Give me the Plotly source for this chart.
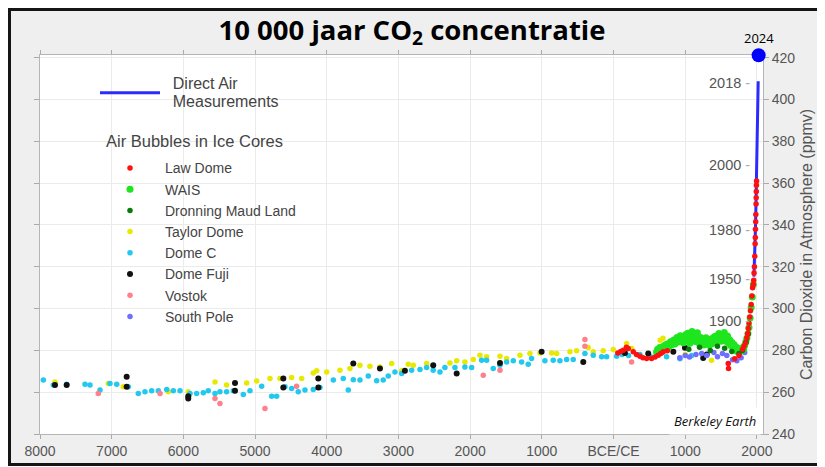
import plotly.graph_objects as go

# ---------------- data (year: negative = BCE, ppm) ----------------
direct_years = [1958, 1960, 1965, 1970, 1975, 1980, 1985, 1990, 1995, 2000, 2005, 2010, 2015, 2018]
direct_ppm = [315.3, 316.9, 320.0, 325.7, 331.1, 338.7, 346.1, 354.4, 360.8, 369.7, 379.8, 389.9, 401.0, 408.7]

latest_year = [2024]
latest_ppm = [421.2]

lawdome_years = [60, 100, 136, 180, 205, 275, 320, 368, 410, 462,
                 531, 580, 624, 660, 693, 750, 1600, 1604, 1690, 1750,
                 1800, 1820, 1840, 1860, 1870, 1880, 1890, 1900, 1910, 1920,
                 1930, 1940, 1950, 1955, 1960, 1965, 1970, 1975, 1978, 1980,
                 1983, 1985, 1988, 1990, 1992, 1993, 1995]
lawdome_ppm = [278.8, 279.5, 280.1, 281.5, 280.9, 279.3, 278.0, 277.2, 276.5, 276.1,
               276.1, 276.8, 277.7, 278.5, 279.3, 279.8, 273.7, 271.3, 276.0, 277.5,
               280.5, 282.0, 283.5, 286.0, 288.0, 290.5, 293.0, 296.0, 299.0, 302.0,
               306.0, 310.0, 311.5, 313.5, 317.0, 320.0, 325.0, 331.0, 334.0, 338.0,
               341.5, 345.0, 350.0, 353.0, 356.0, 359.0, 361.0]

wais_years = [600, 615, 630, 645, 660, 675, 690, 705, 720, 735,
              750, 765, 780, 795, 810, 825, 840, 855, 870, 885,
              900, 915, 930, 945, 960, 975, 990, 1005, 1020, 1035,
              1050, 1065, 1080, 1095, 1110, 1125, 1140, 1155, 1170, 1185,
              1200, 1215, 1230, 1245, 1260, 1275, 1290, 1305, 1320, 1335,
              1350, 1365, 1380, 1395, 1410, 1425, 1440, 1455, 1470, 1485,
              1500, 1515, 1530, 1545, 1560, 1575, 1590, 1605, 1620, 1635,
              1650, 1665, 1680, 1695, 1710, 1725, 1740, 1755, 1770, 1785,
              1800, 1815, 1830, 1845, 1860, 1875, 1890, 1905, 1920, 1935, 1950]
wais_ppm = [279.2, 280.6, 279.0, 281.4, 280.0, 279.4, 281.9, 280.8, 282.6, 281.2,
            283.0, 281.6, 282.2, 284.1, 282.7, 283.8, 285.0, 283.1, 284.6, 286.2,
            284.0, 285.6, 287.0, 284.8, 286.4, 283.6, 285.9, 287.5, 284.9, 288.2,
            286.0, 283.4, 287.3, 289.0, 285.5, 287.9, 284.3, 286.7, 288.4, 285.1,
            283.0, 286.2, 284.0, 285.4, 282.6, 284.8, 286.0, 283.3, 285.2, 282.4,
            284.5, 283.0, 285.8, 284.1, 286.6, 283.7, 287.0, 285.0, 288.1, 286.3,
            284.4, 287.6, 285.8, 288.6, 286.0, 284.2, 286.9, 283.5, 285.1, 282.3,
            283.9, 281.4, 282.8, 280.3, 281.6, 279.5, 280.9, 279.1, 280.4, 279.8,
            281.2, 280.6, 282.5, 284.0, 285.8, 288.0, 291.0, 295.5, 300.5, 305.5, 311.5]

dml_years = [1050, 1200, 1350, 1450, 1550, 1650, 1750, 1800, 1850, 1880]
dml_ppm = [280.5, 281.5, 280.0, 282.0, 281.0, 279.5, 278.5, 280.0, 284.0, 288.0]

taylor_years = [-7791, -7047, -6838, -6210, -5932, -5559, -5397, -5117, -4978, -4792,
                -4653, -4490, -4350, -4188, -4141, -4001, -3816, -3677, -3537, -3398,
                -3258, -3095, -2955, -2863, -2793, -2607, -2282, -2188, -2073, -1956,
                -1863, -1770, -1584, -1491, -1305, -1166, -1026, -863, -793, -608,
                -515, -353, -283, -144, -4, 183, 252, 650, 690, 1000, 1368]
taylor_ppm = [264.9, 264.2, 262.6, 260.2, 260.2, 264.9, 263.4, 264.4, 265.4, 266.6,
              266.6, 267.0, 266.6, 269.2, 270.2, 269.7, 270.5, 271.3, 272.9, 272.4,
              272.1, 273.7, 270.2, 273.4, 272.9, 273.7, 274.0, 275.0, 274.5, 275.6,
              277.7, 276.9, 277.2, 276.1, 277.7, 278.5, 278.8, 278.8, 278.5, 279.3,
              279.8, 281.4, 279.3, 279.8, 280.4, 283.3, 280.9, 284.9, 285.8, 278.0, 275.3]

domec_years = [-7954, -7814, -7628, -7372, -7303, -7163, -7024, -6930, -6768, -6629,
               -6536, -6442, -6350, -6233, -6140, -6047, -5908, -5815, -5722, -5653,
               -5559, -5490, -5397, -5304, -5164, -5071, -4908, -4769, -4699, -4583,
               -4490, -4398, -4304, -4188, -4095, -3909, -3770, -3700, -3630, -3537,
               -3421, -3304, -3212, -3142, -3049, -2955, -2816, -2700, -2607, -2515,
               -2421, -2352, -2212, -2073, -1979, -1840, -1770, -1678, -1584, -1491,
               -1398, -1282, -1190, -1143, -957, -841, -748, -654, -562, -399,
               -283, -166, -96, 43, 120, 210, 368, 520, 740, 926, 1090]
domec_ppm = [265.8, 263.4, 263.8, 263.8, 263.4, 261.0, 264.2, 263.8, 262.6, 259.4,
             260.2, 260.7, 260.7, 261.3, 260.7, 260.7, 259.4, 259.4, 259.7, 260.7,
             259.4, 260.2, 260.2, 260.7, 258.9, 260.7, 262.9, 258.1, 258.1, 262.6,
             261.8, 260.2, 261.0, 261.3, 262.3, 265.8, 266.6, 261.0, 266.0, 265.8,
             267.7, 265.5, 265.8, 267.7, 269.7, 268.9, 270.5, 270.8, 271.8, 270.5,
             269.7, 271.8, 271.8, 272.1, 271.8, 275.3, 275.3, 271.3, 272.9, 274.5,
             275.0, 274.5, 273.4, 276.1, 275.0, 275.3, 275.0, 275.6, 275.6, 278.5,
             277.7, 276.9, 276.9, 277.2, 278.0, 277.5, 278.0, 277.0, 276.9, 276.0, 277.5]

domefuji_years = [-7791, -7628, -6791, -6791, -5932, -5932, -5280, -5280, -4606, -4606,
                  -4118, -4118, -3630, -3258, -2910, -2515, -2188, -1584, -1003, -422,
                  159, 484, 834, 996, 1251, 1300]
domefuji_ppm = [263.4, 263.4, 267.4, 262.6, 258.1, 257.0, 264.4, 260.7, 266.6, 262.3,
                266.6, 262.3, 273.7, 271.3, 270.2, 272.9, 268.9, 274.0, 279.3, 274.5,
                278.8, 278.5, 279.3, 281.2, 276.4, 278.0]

vostok_years = [-7187, -6326, -5559, -5490, -4862, -4421, -1817, -1584, -399, -399, 252]
vostok_ppm = [259.4, 259.4, 257.0, 254.6, 252.2, 262.9, 268.1, 270.5, 285.2, 282.0, 274.5]

southpole_years = [925, 1000, 1060, 1150, 1230, 1300, 1400, 1450, 1520, 1580, 1660, 1720, 1780, 1830]
southpole_ppm = [276.5, 277.5, 276.8, 278.0, 278.5, 277.5, 279.0, 277.0, 278.5, 277.5, 275.5, 275.0, 276.5, 279.0]

x_tickvals = [-8000, -7000, -6000, -5000, -4000, -3000, -2000, -1000, 0, 1000, 2000]
x_ticktext = ["8000", "7000", "6000", "5000", "4000", "3000", "2000", "1000", "BCE/CE", "1000", "2000"]

year_labels = ["2018", "2000", "1980", "1950", "1900"]
year_label_ppm = [407.8, 368.5, 337.4, 314.0, 293.9]

# ---------------- figure ----------------
# the page body adds an 8px offset: figure px = screen px - 8
OFF = 8
W, H = 825, 467
ML, MT = 32, 47
PW, PH = 723, 379
MR, MB = W - ML - PW, H - MT - PH


def fx_to_paper(fx):
    return (fx - ML) / PW


def fy_to_paper(fy):
    return (H - MB - fy) / PH


def px_to_paper_x(sx):
    return fx_to_paper(sx - OFF)


def py_to_paper_y(sy):
    return fy_to_paper(sy - OFF)


fig = go.Figure()


def add_core(name, xs, ys, color, size, rank):
    fig.add_trace(go.Scatter(
        x=xs, y=ys, mode="markers", name=name,
        marker=dict(color=color, size=size, line=dict(width=0)),
        legendgroup="ice", legendrank=rank, cliponaxis=False))


add_core("Taylor Dome", taylor_years, taylor_ppm, "#e8e800", 5.5, 5)
add_core("Dome C", domec_years, domec_ppm, "#22c8ee", 5.5, 6)
add_core("Vostok", vostok_years, vostok_ppm, "#ff7f8a", 5.5, 8)
add_core("Dome Fuji", domefuji_years, domefuji_ppm, "#111111", 6, 7)
add_core("South Pole", southpole_years, southpole_ppm, "#6f6fff", 5.5, 9)
add_core("WAIS", wais_years, wais_ppm, "#1ee61e", 7, 3)
add_core("Dronning Maud Land", dml_years, dml_ppm, "#0a7a0a", 5.5, 4)

NB = "\u00a0\u00a0"
fig.add_trace(go.Scatter(
    x=direct_years, y=direct_ppm, mode="lines",
    name=(NB + "<span style='font-size:16px'>Direct Air</span><br>"
          + NB + "<span style='font-size:16px'>Measurements</span>"),
    line=dict(color="#2b2bff", width=3), legendgroup="direct", legendrank=1))

add_core("Law Dome", lawdome_years, lawdome_ppm, "#ff1010", 5.5, 2)

fig.add_trace(go.Scatter(
    x=latest_year, y=latest_ppm, mode="markers", showlegend=False,
    marker=dict(color="#0000ff", size=14, line=dict(width=0)), cliponaxis=False))

annotations = []
for lbl, v in zip(year_labels, year_label_ppm):
    annotations.append(dict(
        x=1932, y=v, xref="x", yref="y", xanchor="right", yanchor="middle",
        text=f"{lbl} <span style='color:#aaaaaa'>-</span>", showarrow=False,
        font=dict(family="Liberation Sans, Arial", size=14.5, color="#555555")))

annotations.append(dict(
    x=latest_year[0], y=latest_ppm[0], xref="x", yref="y", yanchor="bottom", xanchor="center",
    yshift=6, text=str(latest_year[0]), showarrow=False,
    font=dict(family="Open Sans", size=13, color="#000000")))

annotations.append(dict(
    x=px_to_paper_x(104), y=py_to_paper_y(141), xref="paper", yref="paper",
    xanchor="left", yanchor="middle", text="Air Bubbles in Ice Cores", showarrow=False,
    font=dict(family="Liberation Sans, Arial", size=16.5, color="#444444")))

annotations.append(dict(
    x=px_to_paper_x(761), y=py_to_paper_y(421), xref="paper", yref="paper",
    xanchor="right", yanchor="middle", text="<i>Berkeley Earth</i>", showarrow=False,
    bgcolor="#ffffff", borderpad=4,
    font=dict(family="Open Sans", size=13, color="#111111")))

shapes = [
    dict(type="rect", xref="paper", yref="paper",
         x0=fx_to_paper(1.5), x1=fx_to_paper(950),
         y0=fy_to_paper(456.5), y1=fy_to_paper(1.5),
         fillcolor="#efefef", line=dict(color="#151515", width=3), layer="below"),
    dict(type="rect", xref="paper", yref="paper", x0=0, x1=1, y0=0, y1=1,
         fillcolor="#ffffff", line=dict(width=0), layer="below"),
]

fig.update_layout(
    width=W, height=H,
    margin=dict(l=ML, r=MR, t=MT, b=MB, pad=0, autoexpand=False),
    paper_bgcolor="#ffffff", plot_bgcolor="#ffffff",
    title=dict(text="<b>10 000 jaar CO<sub>2</sub> concentratie</b>",
               x=(412 - OFF) / W, xref="container", xanchor="center",
               y=1 - (30 - OFF) / H, yref="container", yanchor="middle",
               font=dict(family="Open Sans", size=27.5, color="#000000")),
    showlegend=True,
    legend=dict(x=px_to_paper_x(95), y=py_to_paper_y(68), xanchor="left", yanchor="top",
                bgcolor="rgba(0,0,0,0)", itemwidth=60, tracegroupgap=45,
                traceorder="grouped",
                font=dict(family="Liberation Sans, Arial", size=14, color="#444444")),
    xaxis=dict(range=[-8000, 2085], tickvals=x_tickvals, ticktext=x_ticktext,
               automargin=False, layer="below traces",
               showgrid=True, gridcolor="#ebebeb", gridwidth=1, zeroline=False,
               showline=True, linecolor="#b5b5b5", linewidth=1, mirror="ticks",
               ticks="outside", ticklen=4, tickcolor="#aaaaaa",
               tickfont=dict(family="Liberation Sans, Arial", size=14, color="#555555")),
    yaxis=dict(range=[240, 421.3], dtick=20, tick0=240, side="right",
               automargin=False, layer="below traces",
               showgrid=True, gridcolor="#ebebeb", gridwidth=1, zeroline=False,
               showline=True, linecolor="#b5b5b5", linewidth=1, mirror="ticks",
               ticks="outside", ticklen=5, tickcolor="#aaaaaa",
               tickfont=dict(family="Liberation Sans, Arial", size=14, color="#555555"),
               title=dict(text="Carbon Dioxide in Atmosphere (ppmv)", standoff=6,
                          font=dict(family="Liberation Sans, Arial", size=16, color="#555555"))),
    annotations=annotations,
    shapes=shapes,
)

fig.write_html("out.html")
